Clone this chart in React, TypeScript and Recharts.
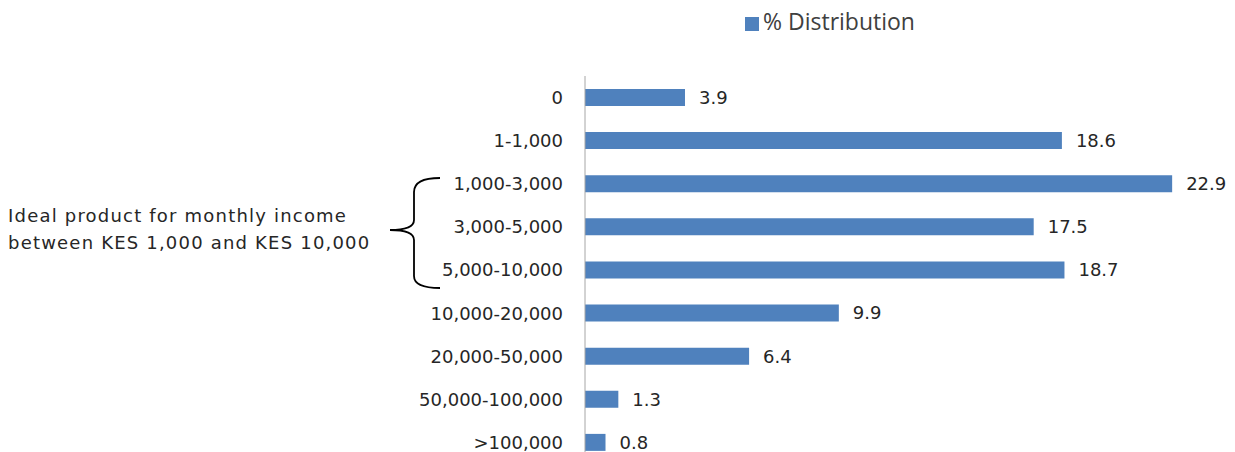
import React from 'react';
import { BarChart, Bar, XAxis, YAxis, Legend, LabelList } from 'recharts';

const incomeBands = ['0', '1-1,000', '1,000-3,000', '3,000-5,000', '5,000-10,000', '10,000-20,000', '20,000-50,000', '50,000-100,000', '>100,000'];
const distribution = [3.9, 18.6, 22.9, 17.5, 18.7, 9.9, 6.4, 1.3, 0.8];

const BAR_COLOR = '#4f81bd';
const TEXT_COLOR = '#262626';
const FONT = '"DejaVu Sans", sans-serif';

const data = incomeBands.map((band, i) => ({ band, value: distribution[i] }));

export default function App() {
  return (
    <div style={{ position: 'absolute', left: 0, top: 0, width: 1235, height: 470, background: '#fff' }}>
      <BarChart
        width={1235}
        height={470}
        data={data}
        layout="vertical"
        margin={{ top: 44, right: 9, left: 0, bottom: 6 }}
      >
        <XAxis type="number" domain={[0, 25]} hide />
        <YAxis
          type="category"
          dataKey="band"
          width={585}
          tickLine={false}
          tickSize={0}
          tickMargin={22}
          axisLine={{ stroke: '#a6a6a6' }}
          tick={{ fill: TEXT_COLOR, fontSize: 18, fontFamily: FONT }}
          interval={0}
        />
        <Legend
          verticalAlign="top"
          iconType="square"
          iconSize={14}
          wrapperStyle={{ position: 'absolute', top: 5, left: 745, width: 'auto', fontFamily: '"Open Sans", sans-serif', fontSize: 23 }}
          formatter={(v: string) => <span style={{ color: '#404040' }}>{v}</span>}
        />
        <Bar dataKey="value" name="% Distribution" fill={BAR_COLOR} barSize={17} isAnimationActive={false}>
          <LabelList dataKey="value" position="right" offset={14} fill={TEXT_COLOR} fontSize={18} fontFamily={FONT} formatter={(v: number) => v.toFixed(1)} />
        </Bar>
      </BarChart>
      <div style={{ position: 'absolute', left: 8, top: 202, fontFamily: FONT, fontSize: 18, letterSpacing: 1.2, lineHeight: '27px', color: TEXT_COLOR }}>
        Ideal product for monthly income
        <br />
        between KES 1,000 and KES 10,000
      </div>
      <svg style={{ position: 'absolute', left: 380, top: 165 }} width={70} height={130}>
        <path
          d="M 60 13 Q 34 13 34 27 L 34 55 Q 34 65 10 65 Q 34 65 34 75 L 34 111 Q 34 123 60 123"
          fill="none"
          stroke="#000"
          strokeWidth={1.8}
        />
      </svg>
    </div>
  );
}
